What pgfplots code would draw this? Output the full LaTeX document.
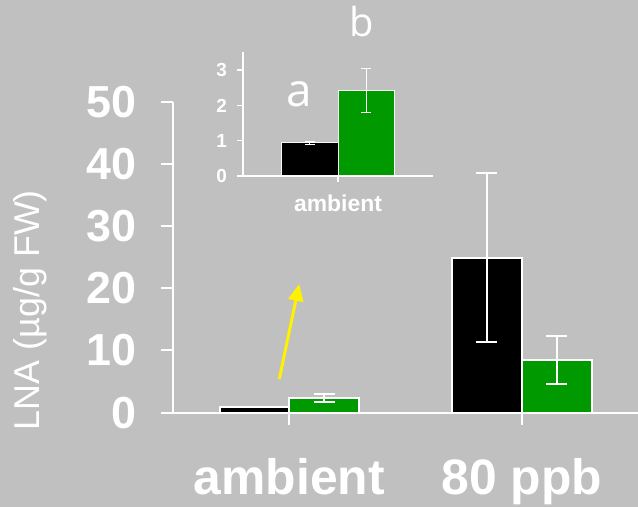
\documentclass[border=0pt]{standalone}
\usepackage{pgfplots}
\pgfplotsset{compat=1.18}
\usepackage{fontspec}
\setmainfont{Liberation Sans}
\newfontfamily\letterfont{Open Sans}
\usetikzlibrary{arrows.meta}
\definecolor{bg}{HTML}{C0C0C0}
\definecolor{grn}{HTML}{009900}
\begin{document}
\begin{tikzpicture}[x=1bp,y=1bp]
\fill[bg] (0,0) rectangle (638,507);
\useasboundingbox (0,0) rectangle (638,507);
% main axis
\begin{axis}[
  at={(173bp,94.3bp)}, anchor=south west,
  scale only axis, width=465bp, height=311bp,
  xmin=-0.5, xmax=1.5, ymin=0, ymax=50,
  axis x line=bottom, axis y line=left,
  axis line style={white, line width=2bp, -},
  ybar=0pt, bar width=0.3,
  xtick={0,1}, xticklabels={ambient,80 ppb},
  ytick={0,10,20,30,40,50},
  tick style={white, line width=2bp},
  tick align=outside, major tick length=12bp,
  /pgf/number format/assume math mode=true,
  yticklabel style={font=\bfseries\fontsize{45}{50}\selectfont, text=white, inner sep=0pt, anchor=east, xshift=-24bp},
  xticklabel style={font=\bfseries\fontsize{50}{55}\selectfont, text=white, inner sep=0pt, anchor=base, yshift=-70bp},
  ylabel={LNA (µg/g FW)},
  ylabel style={font=\fontsize{36}{40}\selectfont, text=white, at={(axis description cs:-0.3075,0.33)}, anchor=center, rotate=0},
  error bars/y dir=both, error bars/y explicit,
  error bars/error bar style={white, line width=2bp},
  error bars/error mark options={white, rotate=90, mark size=10.5bp, line width=2bp},
]
\addplot[fill=black, draw=white, line width=2bp] coordinates {(0,0.94) +- (0,0.05) (1,24.9) +- (0,13.6)};
\addplot[fill=grn, draw=white, line width=2bp] coordinates {(0,2.42) +- (0,0.62) (1,8.45) +- (0,3.9)};
\draw[yellow, line width=3bp, -{Triangle[width=15bp,length=17bp]}] (axis cs:-0.043,5.4) -- (axis cs:0.043,20.7);
\end{axis}
% inset axis
\begin{axis}[
  at={(243bp,331bp)}, anchor=south west,
  scale only axis, width=190bp, height=123.5bp,
  xmin=-0.5, xmax=0.5, ymin=0, ymax=3.5,
  axis x line=bottom, axis y line=left,
  axis line style={white, line width=1.5bp, -},
  ybar=0pt, bar width=0.295,
  xtick={0}, xticklabels={ambient},
  ytick={0,1,2,3},
  tick style={white, line width=1.5bp},
  tick align=outside, major tick length=6bp,
  /pgf/number format/assume math mode=true,
  yticklabel style={font=\bfseries\fontsize{19}{22}\selectfont, text=white, inner sep=0pt, anchor=east, xshift=-10bp},
  xticklabel style={font=\bfseries\fontsize{23}{26}\selectfont, text=white, inner sep=0pt, anchor=base, yshift=-30bp},
  error bars/y dir=both, error bars/y explicit,
  error bars/error bar style={white, line width=1bp},
  error bars/error mark options={white, rotate=90, mark size=5bp, line width=1bp},
]
\addplot[fill=black, draw=white!90!bg, line width=1bp] coordinates {(0,0.94) +- (0,0.05)};
\addplot[fill=grn, draw=white!90!bg, line width=1bp] coordinates {(0,2.42) +- (0,0.62)};
\end{axis}
\node[text=white, font=\letterfont\fontsize{46}{50}\selectfont, inner sep=0pt] at (299,413) {a};
\node[text=white, font=\letterfont\fontsize{40}{44}\selectfont, inner sep=0pt] at (362,485) {b};
\end{tikzpicture}
\end{document}
